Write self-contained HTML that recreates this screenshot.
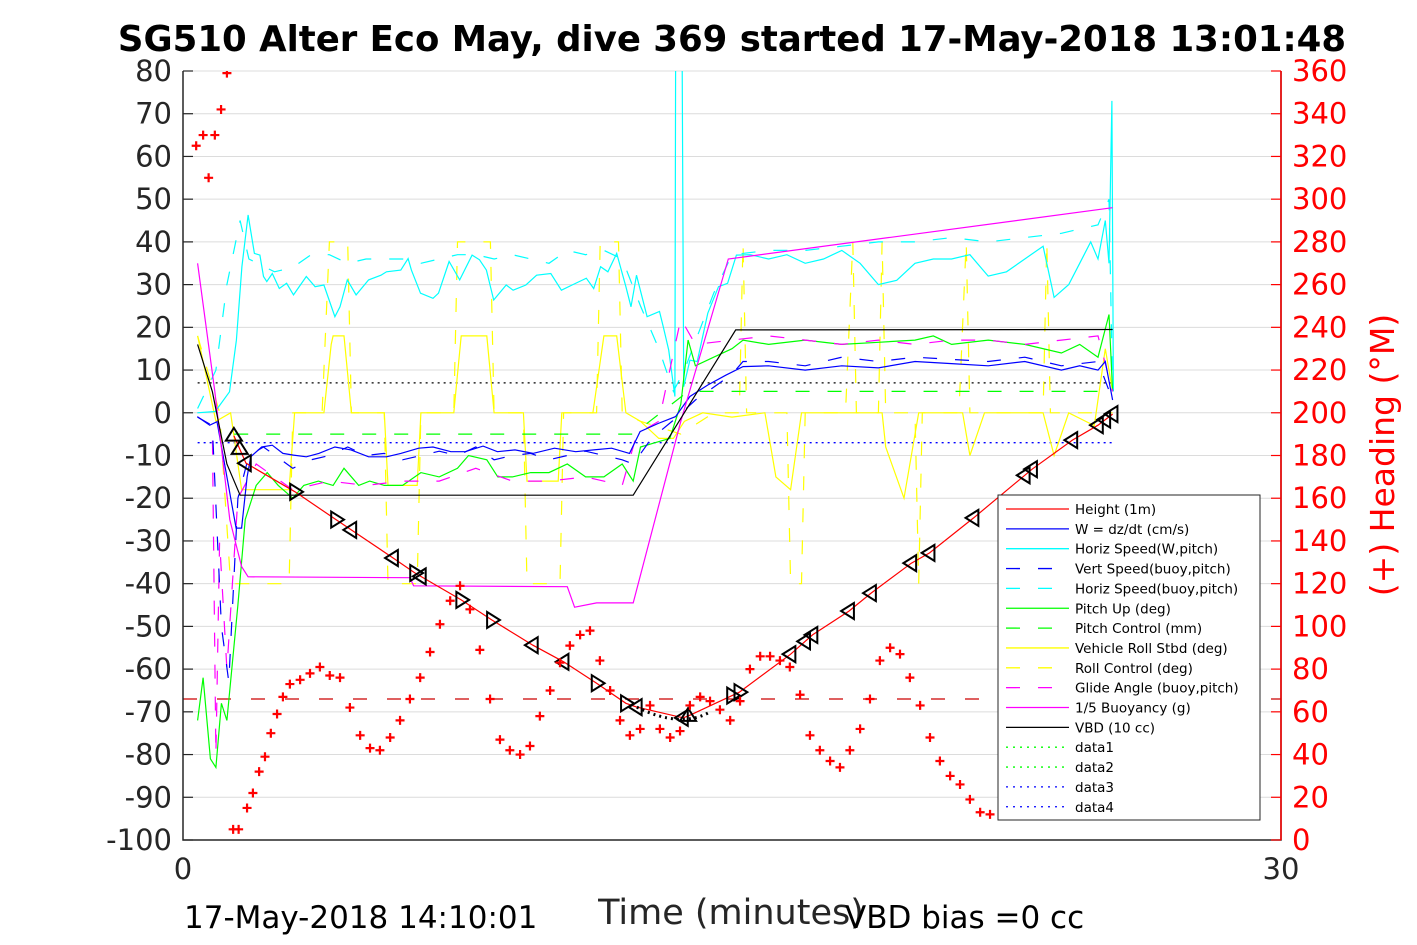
<!DOCTYPE html>
<html><head><meta charset="utf-8"><style>
body{margin:0;background:#fff;width:1417px;height:945px;overflow:hidden;font-family:"Liberation Sans","DejaVu Sans",sans-serif}
svg{display:block}
</style></head><body>
<svg id="chart" width="1417" height="945" xmlns="http://www.w3.org/2000/svg" font-family="DejaVu Sans, Liberation Sans, sans-serif">
<text x="732" y="51" text-anchor="middle" font-size="35.5" font-weight="bold">SG510 Alter Eco May, dive 369 started 17-May-2018 13:01:48</text>
<g id="grid"></g><g id="plot"></g><g id="axes"></g><g id="legend"></g>
<text x="184" y="928" font-size="31">17-May-2018 14:10:01</text>
<text x="731" y="924" font-size="35" text-anchor="middle" fill="#262626">Time (minutes)</text>
<text x="845" y="928" font-size="31">VBD bias =0 cc</text>
<text transform="translate(1394,455) rotate(-90)" font-size="33" text-anchor="middle" fill="#f00">(+) Heading (°M)</text>
</svg>
<script>
const leftTicks=[80,70,60,50,40,30,20,10,0,-10,-20,-30,-40,-50,-60,-70,-80,-90,-100];
const rightTicks=[360,340,320,300,280,260,240,220,200,180,160,140,120,100,80,60,40,20,0];
const xTicks=[0,30];
const heightT=[1.39,1.72,3.06,4.18,5.74,6.34,7.6,8.44,9.56,10.4,11.3,12.1,12.4,13.66,13.8,15.2,16.6,17.2,18.2,18.8,19.9,20.4,21.6,23.2,24.3,25.0,25.4];
const heightV=[-5.4,-11.8,-18.5,-25,-34,-37.5,-43.8,-48.5,-54.4,-58.3,-63.3,-68,-68.9,-71.4,-71,-65.4,-56.5,-52,-46.4,-42.2,-35.2,-32.8,-24.6,-13.2,-6.4,-2.9,-0.3];
const markerT=[1.39,1.55,1.72,3.06,4.18,4.6,5.74,6.34,6.5,7.6,8.44,9.56,10.4,11.3,12.1,12.4,13.66,13.8,15.0,15.2,16.6,17.0,17.2,18.2,18.8,19.9,20.4,21.6,23.0,23.2,24.3,25.0,25.2,25.4];
const markerDir=['u','u','l','r','r','l','l','r','l','r','r','l','l','r','r','l','l','u','r','r','l','l','l','l','l','l','l','l','l','l','l','l','l','l'];
const headT=[0.36,0.55,0.7,0.87,1.04,1.2,1.37,1.52,1.75,1.91,2.08,2.24,2.4,2.57,2.73,2.92,3.2,3.47,3.74,4.01,4.29,4.56,4.84,5.11,5.38,5.66,5.93,6.2,6.48,6.75,7.02,7.3,7.57,7.84,8.11,8.39,8.66,8.93,9.21,9.48,9.75,10.03,10.3,10.57,10.85,11.12,11.39,11.67,11.94,12.21,12.49,12.76,13.03,13.31,13.58,13.85,14.13,14.4,14.67,14.95,15.22,15.49,15.77,16.04,16.31,16.58,16.86,17.13,17.4,17.68,17.95,18.22,18.5,18.77,19.04,19.32,19.59,19.86,20.14,20.41,20.68,20.96,21.23,21.5,21.78,22.05];
const headV=[325,330,310,330,342,359,5,5,15,22,32,39,50,59,67,73,75,78,81,77,76,62,49,43,42,48,56,66,76,88,101,112,119,108,89,66,47,42,40,44,58,70,83,91,96,98,84,70,56,49,52,63,52,48,51,63,67,65,61,56,65,80,86,86,84,81,68,49,42,37,34,42,52,66,84,90,87,76,63,48,37,30,26,19,13,12];
const vbdT=[0.4,0.8,1.2,1.56,12.3,15.1,25.4];
const vbdV=[16,5,-12,-19.3,-19.3,19.4,19.5];
const buoyT=[0.4,0.87,1.28,1.6,1.78,6.2,6.3,10.5,10.7,11.3,12.3,13.6,14.9,25.4];
const buoyV=[35,5,-25,-36,-38.4,-38.6,-40.5,-40.7,-45.5,-44.5,-44.5,-2,36,48];
const cyanT=[0.39,0.88,1.27,1.46,1.61,1.78,1.95,2.1,2.2,2.29,2.44,2.63,2.83,3.02,3.37,3.61,3.85,4.15,4.29,4.49,4.73,5.07,5.41,5.56,5.95,6.15,6.24,6.49,6.83,6.98,7.27,7.56,7.9,8.1,8.29,8.49,8.83,9.02,9.37,9.66,10.05,10.34,10.63,11.02,11.22,11.41,11.61,11.85,12.1,12.24,12.39,12.68,13.02,13.12,13.27,13.44,13.46,13.64,13.68,13.85,14.05,14.34,14.63,14.88,15.12,15.5,16,16.5,17,17.5,18,18.5,19,19.5,20,20.5,21,21.5,22,22.5,23,23.5,23.8,24.2,24.5,24.8,25,25.2,25.3,25.38,25.42];
const cyanV=[0,0.3,4.9,17,34.2,46.3,37.3,36.9,31.9,30.7,32.6,29.1,30.3,27.6,31.9,29.5,29.9,22.5,24.8,31.1,27.6,31.1,32.2,33,33.4,36.1,33.4,28,26.8,28,35.4,31.1,36.9,35.8,33.4,26.4,29.9,28.7,29.9,32.2,32.6,28.7,29.9,31.5,29.1,34.2,33,37.3,29.5,24.8,32.2,22.5,23.7,20.2,14.7,3.8,81,81,6.1,12.3,12,23.3,29.5,30.3,36.9,37,36,37,35,36,38,35,30,31,35,36,36,37,32,33,36,39,27,30,35,40,36,45,35,73,5];
const cyanDT=[0.4,0.9,1.2,1.56,1.8,2.5,3,3.5,4,4.5,5,5.5,6,6.5,7,7.5,8,8.5,9,9.5,10,10.5,11,11.5,12,12.5,13,13.4,13.7,14.5,15,16,17,18,19,20,21,22,23,24,25,25.3,25.4];
const cyanDV=[1,10,30,45,36,33,34,37,37,35,36,36,36,35,36,37,37,36,37,36,35,38,37,38,36,25,15,5,10,28,37,38,38,39,40,40,41,40,41,42,44,50,5];
const wT=[0.39,0.73,0.93,1.2,1.45,1.6,1.75,1.85,2.15,2.44,2.73,3.02,3.37,3.71,4.15,4.59,5.07,5.56,5.95,6.44,6.83,7.32,7.71,8.2,8.59,9.07,9.56,10.15,10.73,11.22,11.71,12.2,12.49,12.98,13.46,13.85,14.34,14.83,15.3,16,17,18,19,20,21,22,23,24,24.5,25,25.2,25.4];
const wV=[-0.9,-2.9,-2.1,-15,-27,-27,-15,-10.3,-8,-7.6,-9.5,-9.9,-10.3,-9.5,-8,-8.7,-10.3,-10.3,-9.5,-8.3,-8,-9.1,-9.1,-7.8,-9.1,-8.7,-9.5,-8.3,-9.1,-8.7,-8.3,-9.5,-4.4,-2.5,-0.9,3.8,6.5,8.8,10.8,11,10,11,10.5,12,11.5,11,12,10,11,10,12,3];
const vsT=[0.4,0.8,1.05,1.25,1.5,1.8,2.2,3,3.5,4,4.5,5,5.5,6,6.5,7,7.5,8,8.5,9,9.5,10,10.5,11,11.5,12,12.3,12.8,13.5,14,15,15.3,16,17,18,19,20,21,22,23,24,25,25.4];
const vsV=[-1,-3,-50,-63,-20,-10,-8,-13,-11,-10,-8,-10,-9.5,-11,-10,-9,-10,-8,-11,-10,-9.5,-11,-10,-9,-10,-11,-12,-6,-1,3,9,12,12,11,13,12,13,12.5,12,13,11,12,3];
const pitchT=[0.4,0.55,0.75,0.9,1.05,1.2,1.5,1.7,2,2.3,2.6,3,3.3,3.7,4.1,4.4,4.8,5.1,5.5,6,6.5,7,7.5,7.8,8.3,8.6,9,9.5,10,10.5,11,11.5,12,12.3,12.5,12.9,13.3,13.6,13.8,14,14.5,15,15.3,16,17,18,19,20,20.5,21,22,23,24,24.5,25,25.3,25.4];
const pitchV=[-72,-62,-81,-83,-68,-72,-45,-25,-17,-14,-17,-20,-17,-16,-17,-13,-17,-16,-17,-17,-14,-15,-13,-10,-11,-15,-15,-14,-14,-12,-15,-15,-12,-16,-8,-7,-6,2,17,11,13,15,17,16,17,16,16.5,17,18,16,17,16,14,16,13,23,5];
const glideT=[0.4,0.8,0.9,1.0,1.2,1.5,2,2.5,3,4,5,6,7,8,9,10,11,12,12.4,13,13.6,14,15,16,17,18,19,20,21,22,23,24,25,25.4];
const glideV=[-1,-3,-80,-30,-60,-20,-12,-15,-18,-16,-17,-16,-16,-13,-16,-16,-15,-17,-5,-2,22,16,17,18,17,16,17,16,17,17,16,17,18,5];
const pcT=[1.4,12.3,12.6,13.8,25.4];
const pcV=[-5,-5,-3,5,5];
const rollT=[0.4,0.6,0.9,1.3,1.6,2.9,3.05,3.85,4.05,4.1,4.4,4.6,5.5,5.6,6.4,6.5,7.4,7.6,8.3,8.5,9.3,9.4,10.25,10.35,11.2,11.5,11.85,12.1,12.5,13,13.4,13.7,14.2,15,15.9,16.2,16.6,16.9,19.1,19.2,19.7,20.1,21.3,21.5,21.9,23.5,23.8,24.2,24.9,25.2,25.4];
const rollV=[18,10,-2,0,-18,-18,0,0,16,18,18,0,0,-17,-17,0,0,18,18,0,0,-16,-16,0,0,18,18,0,-2,-6,-6,-2,0,-1,0,-15,-18,0,0,-8,-20,0,0,-10,0,0,-10,0,-3,15,5];
const rcT=[0.4,1.0,1.3,2.9,3.0,3.8,4.0,4.5,4.6,5.5,5.6,6.4,6.5,7.4,7.5,8.4,8.5,9.3,9.4,10.3,10.4,11.3,11.4,11.9,12.0,12.5,13.6,14.5,15.2,15.3,15.4,16.5,16.6,16.9,17.0,18.1,18.3,18.4,19.0,19.1,19.2,20.0,20.1,20.2,21.2,21.4,21.5,23.5,23.6,23.7,25.4];
const rcV=[18,0,-40,-40,0,0,40,40,0,0,-40,-40,0,0,40,40,0,0,-40,-40,0,0,40,40,0,-2,-5,0,0,40,0,0,-40,-40,0,0,40,0,0,40,0,0,-40,0,0,40,0,0,40,0,0];
const dottedLevels=[7,-7];
const dashedLevel=-67;
const legendLabels=["Height (1m)","W = dz/dt (cm/s)","Horiz Speed(W,pitch)","Vert Speed(buoy,pitch)","Horiz Speed(buoy,pitch)","Pitch Up (deg)","Pitch Control (mm)","Vehicle Roll Stbd (deg)","Roll Control (deg)","Glide Angle (buoy,pitch)","1/5 Buoyancy (g)","VBD (10 cc)","data1","data2","data3","data4"];
const legendColors=["#f00","#00f","#0ff","#00f","#0ff","#0f0","#0f0","#ff0","#ff0","#f0f","#f0f","#000","#0f0","#0f0","#00f","#00f"];
const legendDash=["","","","14,18","14,18","","14,18","","14,18","14,18","","","2,5","2,5","2,5","2,5"];

const NS="http://www.w3.org/2000/svg";
const X0=183,X1=1281,Y0=71,Y1=840;
const xs=t=>X0+(t/30)*(X1-X0);
const ys=v=>Y0+(80-v)/180*(Y1-Y0);
const yh=h=>Y0+(360-h)/360*(Y1-Y0);
function mk(tag,attrs,parent){const e=document.createElementNS(NS,tag);for(const k in attrs)e.setAttribute(k,attrs[k]);parent.appendChild(e);return e;}
const grid=document.getElementById('grid'),plot=document.getElementById('plot'),axes=document.getElementById('axes'),leg=document.getElementById('legend');
mk('rect',{x:X0,y:Y0,width:X1-X0,height:Y1-Y0,fill:'#fff'},grid);
leftTicks.forEach(v=>{const l=mk('line',{x1:X0,x2:X1,y1:ys(v),y2:ys(v),stroke:'#dcdcdc','stroke-width':1},grid);

});
const clip=mk('clipPath',{id:'pc'},plot);mk('rect',{x:X0,y:Y0,width:X1-X0,height:Y1-Y0},clip);
const pg=mk('g',{'clip-path':'url(#pc)'},plot);
function series(T,V,color,dash,name,w){const d=T.map((t,i)=>(i?'L':'M')+xs(t).toFixed(1)+','+ys(V[i]).toFixed(1)).join('');
const p=mk('path',{d:d,fill:'none',stroke:color,'stroke-width':w||1.2,'stroke-dasharray':dash||'none'},pg);

}
dottedLevels.forEach((lv,i)=>{const l=mk('line',{x1:xs(0.4),x2:xs(25.4),y1:ys(lv),y2:ys(lv),stroke:i?'#00f':'#000','stroke-width':1.3,'stroke-dasharray':'2,4'},pg);

});
const dl=mk('line',{x1:X0,x2:X1,y1:ys(dashedLevel),y2:ys(dashedLevel),stroke:'#c00','stroke-width':1.2,'stroke-dasharray':'14,20'},pg);


series(rcT,rcV,'#ff0','14,18','roll-control-line');
series(rollT,rollV,'#ff0','','vehicle-roll-line');
series(cyanDT,cyanDV,'#0ff','14,18','horiz-speed-buoy-line');
series(cyanT,cyanV,'#0ff','','horiz-speed-w-line');
series(pcT,pcV,'#0f0','14,18','pitch-control-line');
series(pitchT,pitchV,'#0f0','','pitch-up-line');
series(glideT,glideV,'#f0f','14,18','glide-angle-line');
series(vsT,vsV,'#00f','14,18','vert-speed-buoy-line');
series(wT,wV,'#00f','','w-line');
series(buoyT,buoyV,'#f0f','','buoyancy-line');
series(vbdT,vbdV,'#000','','vbd-line');
series(heightT,heightV,'#f00','','height-line');
markerT.forEach((t,i)=>{let hv=heightV[heightV.length-1];for(let k=0;k<heightT.length-1;k++){if(t>=heightT[k]&&t<=heightT[k+1]){hv=heightV[k]+(heightV[k+1]-heightV[k])*(t-heightT[k])/(heightT[k+1]-heightT[k]);break;}}
const cx=xs(t),cy=ys(hv),r=8,dir=markerDir[i];let pts;
if(dir==='r')pts=[[cx-r*0.6,cy-r],[cx+r,cy],[cx-r*0.6,cy+r]];else if(dir==='l')pts=[[cx+r*0.6,cy-r],[cx-r,cy],[cx+r*0.6,cy+r]];else pts=[[cx,cy-r],[cx+r,cy+r*0.6],[cx-r,cy+r*0.6]];
const m=mk('polygon',{points:pts.map(p=>p.join(',')).join(' '),fill:'none',stroke:'#000','stroke-width':2},pg);

});
const dots=mk('path',{d:'M'+xs(12.4)+','+ys(-68.9)+' Q'+xs(13.6)+','+ys(-74)+' '+xs(14.4)+','+ys(-70),fill:'none',stroke:'#000','stroke-width':3,'stroke-dasharray':'2,4'},pg);


headT.forEach((t,i)=>{const cx=xs(t),cy=yh(headV[i]);
const p=mk('path',{d:`M${cx-4.5},${cy}H${cx+4.5}M${cx},${cy-4.5}V${cy+4.5}`,stroke:'#f00','stroke-width':2.2},pg);

});
mk('path',{d:`M${X0},${Y0}V${Y1}H${X1}V${Y0}`,fill:'none',stroke:'#262626','stroke-width':1.5},axes);
leftTicks.forEach(v=>{mk('line',{x1:X0,x2:X0+10,y1:ys(v),y2:ys(v),stroke:'#262626','stroke-width':1.2},axes);
const tx=mk('text',{x:X0-11,y:ys(v)+10,'text-anchor':'end','font-size':29,fill:'#262626'},axes);tx.textContent=v;

});
rightTicks.forEach(h=>{mk('line',{x1:X1-10,x2:X1,y1:yh(h),y2:yh(h),stroke:'#f00','stroke-width':1.2},axes);
const tx=mk('text',{x:X1+11,y:yh(h)+10,'font-size':29,fill:'#f00'},axes);tx.textContent=h;

});
mk('line',{x1:X1,x2:X1,y1:Y0,y2:Y1,stroke:'#f00','stroke-width':1.5},axes);
xTicks.forEach(t=>{const tx=mk('text',{x:xs(t),y:Y1+39,'text-anchor':'middle','font-size':29,fill:'#262626'},axes);tx.textContent=t;

});
const lb=mk('rect',{x:998,y:495,width:262,height:325,fill:'#fff',stroke:'#262626','stroke-width':1},leg);


legendLabels.forEach((s,i)=>{const y=509+i*19.85;
mk('line',{x1:1006,x2:1069,y1:y,y2:y,stroke:legendColors[i],'stroke-width':1.3,'stroke-dasharray':legendDash[i]||'none'},leg);
const tx=mk('text',{x:1075,y:y+5,'font-size':13.5,fill:'#000'},leg);tx.textContent=s;

});
</script>
</body></html>
